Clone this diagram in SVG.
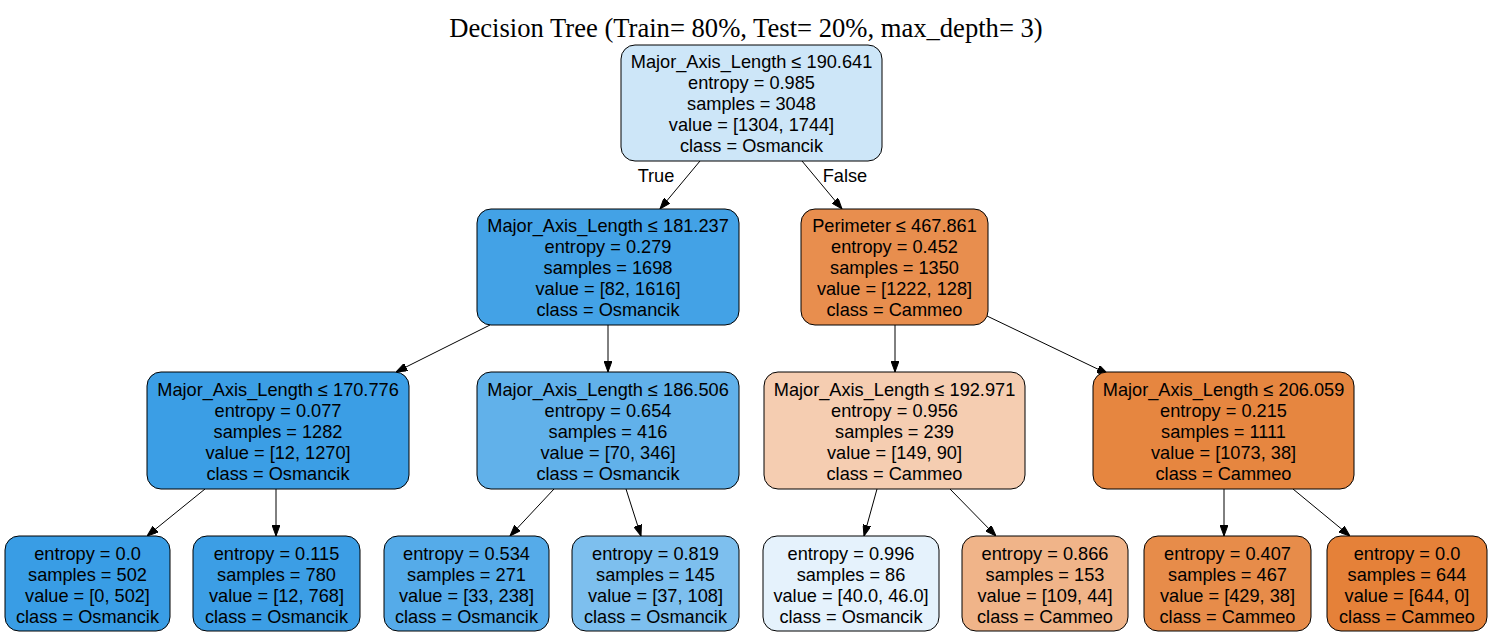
<svg xmlns="http://www.w3.org/2000/svg" width="1491" height="637" viewBox="0 0 1491 637">
<style>
.n{stroke:#000;stroke-width:1}
.t{font-family:"Liberation Sans",Arial,sans-serif;font-size:18.2px;text-anchor:middle;fill:#000}
.e{stroke:#000;stroke-width:1;fill:none;marker-end:url(#ah)}
.title{font-family:"Liberation Serif","Times New Roman",serif;font-size:26.6px;text-anchor:middle;fill:#000}
</style>
<defs>
<marker id="ah" markerUnits="userSpaceOnUse" markerWidth="11" markerHeight="8" refX="11" refY="4" orient="auto">
<path d="M0,0 L11,4 L0,8 z" fill="#000" stroke="#000" stroke-width="1"/>
</marker>
</defs>
<rect width="1491" height="637" fill="#fff"/>
<text class="title" x="746" y="37">Decision Tree (Train= 80%, Test= 20%, max_depth= 3)</text>

<g id="connectors">
<line class="e" x1="700" y1="161" x2="660" y2="209"/>
<line class="e" x1="802" y1="161" x2="842" y2="209"/>
<line class="e" x1="490" y1="325" x2="396" y2="372"/>
<line class="e" x1="608" y1="325" x2="608" y2="372"/>
<line class="e" x1="895" y1="325" x2="895" y2="372"/>
<line class="e" x1="987" y1="316" x2="1108" y2="374"/>
<line class="e" x1="205" y1="489" x2="147" y2="536"/>
<line class="e" x1="276" y1="489" x2="276" y2="536"/>
<line class="e" x1="554" y1="489" x2="510" y2="536"/>
<line class="e" x1="626" y1="489" x2="641" y2="536"/>
<line class="e" x1="877" y1="489" x2="864" y2="536"/>
<line class="e" x1="950" y1="489" x2="996" y2="536"/>
<line class="e" x1="1224" y1="489" x2="1224" y2="536"/>
<line class="e" x1="1293" y1="489" x2="1350" y2="536"/>
<text class="t" x="656" y="182">True</text>
<text class="t" x="845" y="182">False</text>
</g>

<g id="node0">
<rect class="n" x="621" y="45" width="261" height="116" rx="14" fill="#cde6f8"/>
<text class="t" x="751.5" y="68">Major_Axis_Length ≤ 190.641</text>
<text class="t" x="751.5" y="89">entropy = 0.985</text>
<text class="t" x="751.5" y="110">samples = 3048</text>
<text class="t" x="751.5" y="131">value = [1304, 1744]</text>
<text class="t" x="751.5" y="152">class = Osmancik</text>
</g>

<g id="node1">
<rect class="n" x="477" y="209" width="262" height="116" rx="14" fill="#43a2e6"/>
<text class="t" x="608" y="232">Major_Axis_Length ≤ 181.237</text>
<text class="t" x="608" y="253">entropy = 0.279</text>
<text class="t" x="608" y="274">samples = 1698</text>
<text class="t" x="608" y="295">value = [82, 1616]</text>
<text class="t" x="608" y="316">class = Osmancik</text>
</g>

<g id="node8">
<rect class="n" x="801" y="209" width="187" height="116" rx="14" fill="#e88e4e"/>
<text class="t" x="894.5" y="232">Perimeter ≤ 467.861</text>
<text class="t" x="894.5" y="253">entropy = 0.452</text>
<text class="t" x="894.5" y="274">samples = 1350</text>
<text class="t" x="894.5" y="295">value = [1222, 128]</text>
<text class="t" x="894.5" y="316">class = Cammeo</text>
</g>

<g id="node2">
<rect class="n" x="147" y="372" width="262" height="117" rx="14" fill="#3b9ee5"/>
<text class="t" x="278" y="396">Major_Axis_Length ≤ 170.776</text>
<text class="t" x="278" y="417">entropy = 0.077</text>
<text class="t" x="278" y="438">samples = 1282</text>
<text class="t" x="278" y="459">value = [12, 1270]</text>
<text class="t" x="278" y="480">class = Osmancik</text>
</g>

<g id="node5">
<rect class="n" x="477" y="372" width="262" height="117" rx="14" fill="#61b1ea"/>
<text class="t" x="608" y="396">Major_Axis_Length ≤ 186.506</text>
<text class="t" x="608" y="417">entropy = 0.654</text>
<text class="t" x="608" y="438">samples = 416</text>
<text class="t" x="608" y="459">value = [70, 346]</text>
<text class="t" x="608" y="480">class = Osmancik</text>
</g>

<g id="node9">
<rect class="n" x="764" y="372" width="261" height="117" rx="14" fill="#f5cdb1"/>
<text class="t" x="894.5" y="396">Major_Axis_Length ≤ 192.971</text>
<text class="t" x="894.5" y="417">entropy = 0.956</text>
<text class="t" x="894.5" y="438">samples = 239</text>
<text class="t" x="894.5" y="459">value = [149, 90]</text>
<text class="t" x="894.5" y="480">class = Cammeo</text>
</g>

<g id="node12">
<rect class="n" x="1093" y="372" width="261" height="117" rx="14" fill="#e68640"/>
<text class="t" x="1223.5" y="396">Major_Axis_Length ≤ 206.059</text>
<text class="t" x="1223.5" y="417">entropy = 0.215</text>
<text class="t" x="1223.5" y="438">samples = 1111</text>
<text class="t" x="1223.5" y="459">value = [1073, 38]</text>
<text class="t" x="1223.5" y="480">class = Cammeo</text>
</g>

<g id="node3">
<rect class="n" x="5" y="536" width="165" height="95" rx="14" fill="#399de5"/>
<text class="t" x="87.5" y="560">entropy = 0.0</text>
<text class="t" x="87.5" y="581">samples = 502</text>
<text class="t" x="87.5" y="602">value = [0, 502]</text>
<text class="t" x="87.5" y="623">class = Osmancik</text>
</g>

<g id="node4">
<rect class="n" x="193" y="536" width="167" height="95" rx="14" fill="#3c9ee5"/>
<text class="t" x="276.5" y="560">entropy = 0.115</text>
<text class="t" x="276.5" y="581">samples = 780</text>
<text class="t" x="276.5" y="602">value = [12, 768]</text>
<text class="t" x="276.5" y="623">class = Osmancik</text>
</g>

<g id="node6">
<rect class="n" x="384" y="536" width="165" height="95" rx="14" fill="#55abe9"/>
<text class="t" x="466.5" y="560">entropy = 0.534</text>
<text class="t" x="466.5" y="581">samples = 271</text>
<text class="t" x="466.5" y="602">value = [33, 238]</text>
<text class="t" x="466.5" y="623">class = Osmancik</text>
</g>

<g id="node7">
<rect class="n" x="572" y="536" width="167" height="95" rx="14" fill="#7dbfee"/>
<text class="t" x="655.5" y="560">entropy = 0.819</text>
<text class="t" x="655.5" y="581">samples = 145</text>
<text class="t" x="655.5" y="602">value = [37, 108]</text>
<text class="t" x="655.5" y="623">class = Osmancik</text>
</g>

<g id="node10">
<rect class="n" x="763" y="536" width="176" height="95" rx="14" fill="#e5f2fc"/>
<text class="t" x="851" y="560">entropy = 0.996</text>
<text class="t" x="851" y="581">samples = 86</text>
<text class="t" x="851" y="602">value = [40.0, 46.0]</text>
<text class="t" x="851" y="623">class = Osmancik</text>
</g>

<g id="node11">
<rect class="n" x="962" y="536" width="166" height="95" rx="14" fill="#f0b489"/>
<text class="t" x="1045" y="560">entropy = 0.866</text>
<text class="t" x="1045" y="581">samples = 153</text>
<text class="t" x="1045" y="602">value = [109, 44]</text>
<text class="t" x="1045" y="623">class = Cammeo</text>
</g>

<g id="node13">
<rect class="n" x="1144" y="536" width="167" height="95" rx="14" fill="#e78c4a"/>
<text class="t" x="1227.5" y="560">entropy = 0.407</text>
<text class="t" x="1227.5" y="581">samples = 467</text>
<text class="t" x="1227.5" y="602">value = [429, 38]</text>
<text class="t" x="1227.5" y="623">class = Cammeo</text>
</g>

<g id="node14">
<rect class="n" x="1327" y="536" width="160" height="95" rx="14" fill="#e58139"/>
<text class="t" x="1407" y="560">entropy = 0.0</text>
<text class="t" x="1407" y="581">samples = 644</text>
<text class="t" x="1407" y="602">value = [644, 0]</text>
<text class="t" x="1407" y="623">class = Cammeo</text>
</g>
</svg>
